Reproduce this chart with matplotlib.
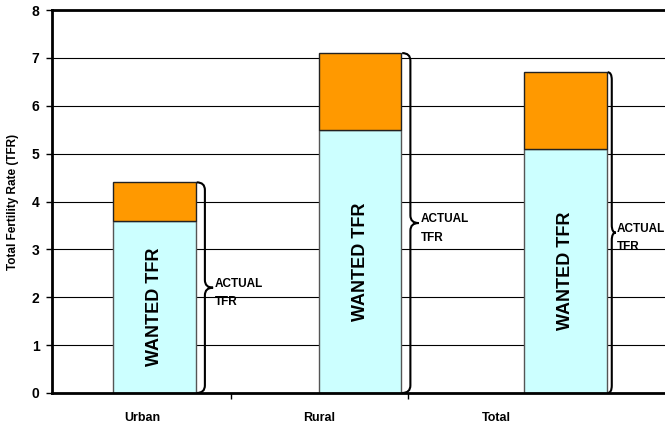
import matplotlib.pyplot as plt
from matplotlib.path import Path
from matplotlib.patches import PathPatch

plt.rcParams['font.family'] = ['Liberation Sans', 'DejaVu Sans']

categories = ['Urban', 'Rural', 'Total']
wanted_tfr = [3.6, 5.5, 5.1]
actual_tfr = [4.4, 7.1, 6.7]
y_ticks = [0, 1, 2, 3, 4, 5, 6, 7, 8]

fig = plt.figure(figsize=(6.65, 4.28), dpi=100)
ax = fig.add_axes([52 / 665, 35 / 428, 613 / 665, 383 / 428])

x = list(range(len(categories)))
bar_w = 0.40
extra = [a - w for a, w in zip(actual_tfr, wanted_tfr)]

ax.bar(x, wanted_tfr, width=bar_w, color='#CCFFFF', edgecolor='#555555', linewidth=1, zorder=2)
ax.bar(x, extra, bottom=wanted_tfr, width=bar_w, color='#FF9900', edgecolor='#222222', linewidth=1, zorder=2)

for xi, w in zip(x, wanted_tfr):
    ax.text(xi, w / 2, 'WANTED TFR', rotation=90, ha='center', va='center',
            fontsize=13, fontweight='bold', zorder=3)


def brace(x0, top, width, r=0.16):
    mid = top / 2
    xm = x0 + width * 0.5
    xt = x0 + width
    verts = [(x0, top), (xm, top), (xm, top - r),
             (xm, mid + r), (xm, mid), (xt, mid),
             (xm, mid), (xm, mid - r),
             (xm, r), (xm, 0), (x0, 0)]
    codes = [Path.MOVETO, Path.CURVE3, Path.CURVE3,
             Path.LINETO, Path.CURVE3, Path.CURVE3,
             Path.CURVE3, Path.CURVE3,
             Path.LINETO, Path.CURVE3, Path.CURVE3]
    return PathPatch(Path(verts, codes), fill=False, edgecolor='black', linewidth=1.5, zorder=4)


brace_w = [0.08, 0.08, 0.04]
text_gap = [0.01, 0.01, 0.003]
for xi, a, bw, g in zip(x, actual_tfr, brace_w, text_gap):
    x0 = xi + bar_w / 2 + 0.005
    ax.add_patch(brace(x0, a, bw))
    ax.text(x0 + bw + g, a / 2 + 0.2, 'ACTUAL\nTFR', ha='left', va='top',
            fontsize=8.5, fontweight='bold', linespacing=1.7, zorder=4)

ax.set_xlim(-0.499, 2.484)
ax.set_ylim(0, 8)
ax.set_yticks(y_ticks)
ax.set_yticklabels([str(t) for t in y_ticks], fontsize=10, fontweight='bold')
ax.tick_params(axis='y', direction='out', length=4, width=1, pad=5)

ax.yaxis.grid(True, color='black', linewidth=0.8)
ax.set_axisbelow(True)

# category labels sit on a narrower spacing than the bars
ax.set_xticks([-0.061, 0.80, 1.662])
ax.set_xticklabels(categories, fontsize=9, fontweight='bold')
ax.tick_params(axis='x', which='major', length=0, pad=14)
ax.set_xticks([0.372, 1.233], minor=True)
ax.tick_params(axis='x', which='minor', direction='out', length=4, width=1)

for s in ['left', 'bottom', 'top']:
    ax.spines[s].set_linewidth(2)
ax.spines['right'].set_visible(False)

ax.set_ylabel('Total Fertility Rate (TFR)', fontsize=8.5, fontweight='bold', labelpad=9)

fig.savefig('out.png', dpi=100)
